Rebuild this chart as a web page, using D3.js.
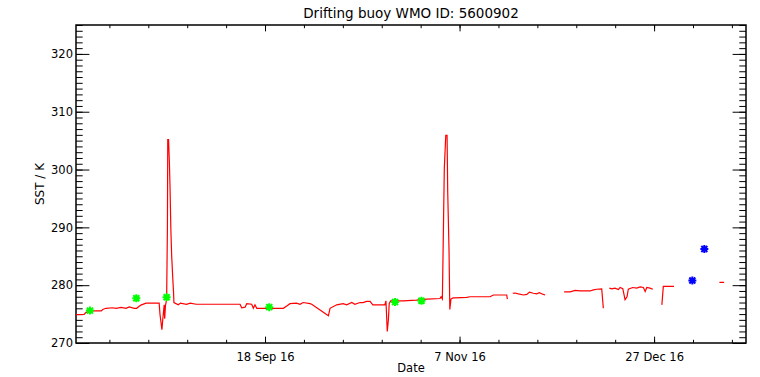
<!DOCTYPE html>
<html>
<head>
<meta charset="utf-8">
<script src="https://cdn.jsdelivr.net/npm/d3@7"></script>
<style>
  body { margin: 0; background: #fff; }
  svg { display: block; }
  text { font-family: "DejaVu Sans", sans-serif; fill: #000; }
</style>
</head>
<body>
<script>
var width = 760,
    height = 377,
    margin = {top: 25, right: 14, bottom: 34, left: 76};

var title = "Drifting buoy WMO ID: 5600902";

// SST trace, null marks a gap in the record
var sstDates = [
  "2016-07-31 10:00", "2016-08-02 12:00", "2016-08-03 00:00", "2016-08-04 07:00", "2016-08-06 22:00",
  "2016-08-07 07:00", "2016-08-08 02:00", "2016-08-09 19:00", "2016-08-10 17:00", "2016-08-12 00:00",
  "2016-08-13 07:00", "2016-08-14 02:00", "2016-08-15 10:00", "2016-08-16 00:00", "2016-08-17 02:00",
  "2016-08-18 10:00", "2016-08-21 19:00", "2016-08-22 00:00", "2016-08-22 12:00", "2016-08-22 17:00",
  "2016-08-23 02:00", "2016-08-23 05:00", "2016-08-23 10:00", "2016-08-23 17:00", "2016-08-23 22:00",
  "2016-08-24 00:00", "2016-08-24 05:00", "2016-08-24 10:00", "2016-08-24 14:00", "2016-08-24 19:00",
  "2016-08-25 00:00", "2016-08-25 07:00", "2016-08-25 12:00", "2016-08-25 14:00", "2016-08-26 17:00",
  "2016-08-27 07:00", "2016-08-28 19:00", "2016-08-29 19:00", "2016-08-31 07:00", "2016-09-08 00:00",
  "2016-09-11 14:00", "2016-09-12 00:00", "2016-09-12 21:00", "2016-09-13 07:00", "2016-09-14 14:00",
  "2016-09-15 00:00", "2016-09-15 10:00", "2016-09-15 21:00", "2016-09-22 17:00", "2016-09-23 14:00",
  "2016-09-24 10:00", "2016-09-26 02:00", "2016-09-27 00:00", "2016-09-27 19:00", "2016-09-29 14:00",
  "2016-09-30 00:00", "2016-10-04 07:00", "2016-10-04 17:00", "2016-10-06 10:00", "2016-10-08 02:00",
  "2016-10-09 00:00", "2016-10-10 07:00", "2016-10-11 02:00", "2016-10-12 10:00", "2016-10-13 05:00",
  "2016-10-14 02:00", "2016-10-15 00:00", "2016-10-15 17:00", "2016-10-18 19:00", "2016-10-19 02:00",
  "2016-10-19 10:00", "2016-10-19 17:00", "2016-10-19 22:00", "2016-10-20 07:00", "2016-10-23 12:00",
  "2016-10-26 22:00", "2016-10-29 14:00", "2016-11-02 00:00", "2016-11-02 06:00", "2016-11-02 14:00",
  "2016-11-02 20:00", "2016-11-03 02:00", "2016-11-03 11:00", "2016-11-03 19:00", "2016-11-03 23:00",
  "2016-11-04 07:00", "2016-11-04 12:00", "2016-11-04 19:00", "2016-11-05 08:00", "2016-11-05 20:00",
  "2016-11-08 20:00", "2016-11-09 17:00", "2016-11-14 20:00", "2016-11-15 17:00", "2016-11-19 03:00",
  "2016-11-19 07:00", null,
  "2016-11-20 16:00", "2016-11-21 06:00", "2016-11-22 03:00", "2016-11-23 10:00", "2016-11-24 07:00",
  "2016-11-24 23:00", "2016-11-25 23:00", "2016-11-26 20:00", "2016-11-27 12:00", "2016-11-28 13:00",
  "2016-11-29 00:00", null,
  "2016-12-03 21:00", "2016-12-05 10:00", "2016-12-06 17:00", "2016-12-08 00:00", "2016-12-10 13:00",
  "2016-12-11 10:00", "2016-12-12 06:00", "2016-12-13 13:00", "2016-12-13 23:00", null,
  "2016-12-15 12:00", "2016-12-16 03:00", "2016-12-16 23:00", "2016-12-17 20:00", "2016-12-18 06:00",
  "2016-12-18 23:00", "2016-12-19 13:00", "2016-12-20 01:00", "2016-12-20 09:00", "2016-12-21 12:00",
  "2016-12-22 13:00", "2016-12-23 10:00", "2016-12-24 06:00", "2016-12-24 17:00", "2016-12-25 03:00",
  "2016-12-25 23:00", "2016-12-26 16:00", null,
  "2016-12-29 00:00", "2016-12-29 09:00", "2017-01-01 03:00", null,
  "2017-01-12 19:00", "2017-01-14 00:00"
];
var sstValues = [
  274.9, 274.95, 275.3, 275.55, 275.55,
  275.8, 276.0, 276.1, 276.0, 276.15,
  276.0, 276.25, 276.0, 276.0, 276.55,
  276.9, 276.9, 275.0, 272.3, 274.0,
  276.6, 274.2, 276.5, 277.5, 290.0,
  305.2, 305.2, 301.3, 297.0, 289.8,
  285.2, 281.2, 278.6, 277.0, 276.6,
  276.9, 276.7, 276.9, 276.7, 276.7,
  276.7, 276.1, 276.2, 276.8, 276.7,
  276.0, 276.6, 276.0, 276.0, 276.4,
  276.8, 276.9, 276.7, 277.0, 276.8,
  276.7, 274.7, 276.0, 276.6, 276.8,
  276.6, 277.0, 276.7, 277.0, 277.0,
  277.2, 277.2, 276.6, 276.6, 277.3,
  272.0, 274.0, 276.8, 277.3, 277.3,
  277.4, 277.6, 277.7, 278.0, 277.6,
  288.7, 300.2, 305.9, 305.9, 296.1,
  286.1, 275.8, 277.6, 277.8, 277.8,
  277.9, 278.0, 278.0, 278.3, 278.3,
  277.6, null,
  278.6, 278.65, 278.5, 278.3, 278.4,
  278.8, 278.6, 278.5, 278.7, 278.4,
  278.3, null,
  278.85, 278.85, 279.1, 279.0, 279.0,
  279.2, 279.3, 279.35, 276.0, null,
  279.5, 279.35, 279.5, 279.25, 279.6,
  279.4, 277.5, 278.0, 279.3, 279.6,
  279.5, 279.7, 279.6, 278.9, 279.6,
  279.5, 279.3, null,
  276.6, 279.8, 279.8, null,
  280.5, 280.5
];

// reference measurements
var greenDates = ["2016-08-04 00:00", "2016-08-15 22:00", "2016-08-23 17:00",
                  "2016-09-19 02:00", "2016-10-21 10:00", "2016-10-28 05:00"];
var greenValues = [275.6, 277.75, 277.9, 276.2, 277.1, 277.3];
var blueDates = ["2017-01-05 20:00", "2017-01-08 22:00"];
var blueValues = [280.8, 286.25];

var xDomain = ["2016-07-31 10:00", "2017-01-19 15:00"];
var xMajorTicks = ["2016-09-18 00:00", "2016-11-07 00:00", "2016-12-27 00:00"];
var yDomain = [270, 325];
var yMajorTicks = [270, 280, 290, 300, 310, 320];

var parse = d3.timeParse("%Y-%m-%d %H:%M");

var x = d3.scaleTime()
    .domain(xDomain.map(parse))
    .range([margin.left, width - margin.right]);

var y = d3.scaleLinear()
    .domain(yDomain)
    .range([height - margin.bottom, margin.top]);

var svg = d3.select("body").append("svg")
    .attr("width", width)
    .attr("height", height);

// minor ticks every 10 days, counted from the first major
var xMinor = d3.range(-4, 13).map(function(k) {
    return d3.timeDay.offset(parse(xMajorTicks[0]), k * 10);
}).filter(function(d) { return d >= x.domain()[0] && d <= x.domain()[1]; });
var xMajor = xMajorTicks.map(parse);
var yMinor = d3.range(yDomain[0], yDomain[1] + 1, 1);

var x0 = margin.left, x1 = width - margin.right,
    y0 = height - margin.bottom, y1 = margin.top;
var plotW = x1 - x0, plotH = y0 - y1;
var xTickLen = 0.02 * plotH, yTickLen = 0.02 * plotW;

function clean(g) {
    g.select(".domain").remove();
    g.selectAll("line").attr("stroke", "#000");
    g.selectAll("text").attr("font-size", "11.5px").style("font-family", "DejaVu Sans");
}

// bottom
svg.append("g").attr("transform", "translate(0," + y0 + ")")
    .call(d3.axisBottom(x).tickValues(xMinor).tickSizeInner(-xTickLen / 2).tickSizeOuter(0).tickFormat(""))
    .call(clean);
svg.append("g").attr("transform", "translate(0," + y0 + ")")
    .call(d3.axisBottom(x).tickValues(xMajor).tickSizeInner(-xTickLen).tickSizeOuter(0)
        .tickPadding(10).tickFormat(d3.timeFormat("%-d %b %y")))
    .call(clean);
// top
svg.append("g").attr("transform", "translate(0," + y1 + ")")
    .call(d3.axisBottom(x).tickValues(xMinor).tickSizeInner(xTickLen / 2).tickSizeOuter(0).tickFormat(""))
    .call(clean);
svg.append("g").attr("transform", "translate(0," + y1 + ")")
    .call(d3.axisBottom(x).tickValues(xMajor).tickSizeInner(xTickLen).tickSizeOuter(0).tickFormat(""))
    .call(clean);
// left
svg.append("g").attr("transform", "translate(" + x0 + ",0)")
    .call(d3.axisLeft(y).tickValues(yMinor).tickSizeInner(-yTickLen / 2).tickSizeOuter(0).tickFormat(""))
    .call(clean);
svg.append("g").attr("transform", "translate(" + x0 + ",0)")
    .call(d3.axisLeft(y).tickValues(yMajorTicks).tickSizeInner(-yTickLen).tickSizeOuter(0).tickPadding(3).tickFormat(d3.format("d")))
    .call(clean);
// right
svg.append("g").attr("transform", "translate(" + x1 + ",0)")
    .call(d3.axisLeft(y).tickValues(yMinor).tickSizeInner(yTickLen / 2).tickSizeOuter(0).tickFormat(""))
    .call(clean);
svg.append("g").attr("transform", "translate(" + x1 + ",0)")
    .call(d3.axisLeft(y).tickValues(yMajorTicks).tickSizeInner(yTickLen).tickSizeOuter(0).tickFormat(""))
    .call(clean);

svg.append("rect")
    .attr("x", x0).attr("y", y1)
    .attr("width", plotW).attr("height", plotH)
    .attr("fill", "none").attr("stroke", "#000").attr("stroke-width", 1.5);

var sst = sstDates.map(function(d, i) {
    return {date: d ? parse(d) : null, value: sstValues[i]};
});

var line = d3.line()
    .defined(function(d) { return d.date !== null && d.value !== null; })
    .x(function(d) { return x(d.date); })
    .y(function(d) { return y(d.value); });

svg.append("path")
    .datum(sst)
    .attr("d", line)
    .attr("fill", "none")
    .attr("stroke", "#ff0000")
    .attr("stroke-width", 1.2);

// IDL style asterisk
var star = "M-4,0H4M0,-4V4M-3,-3L3,3M-3,3L3,-3";

function markers(dates, values, colour) {
    svg.append("g").selectAll("path")
        .data(dates.map(function(d, i) { return {date: parse(d), value: values[i]}; }))
        .enter().append("path")
        .attr("transform", function(d) {
            return "translate(" + x(d.date) + "," + y(d.value) + ")";
        })
        .attr("d", star)
        .attr("stroke", colour)
        .attr("stroke-width", 2);
}
markers(greenDates, greenValues, "#00ff00");
markers(blueDates, blueValues, "#0000ff");

svg.append("text")
    .attr("x", (x0 + x1) / 2).attr("y", 18)
    .attr("text-anchor", "middle")
    .attr("font-size", "13.5px")
    .text(title);

svg.append("text")
    .attr("x", (x0 + x1) / 2).attr("y", 372)
    .attr("text-anchor", "middle")
    .attr("font-size", "11.5px")
    .text("Date");

svg.append("text")
    .attr("transform", "translate(44," + (y0 + y1) / 2 + ") rotate(-90)")
    .attr("text-anchor", "middle")
    .attr("font-size", "12px")
    .text("SST / K");
</script>
</body>
</html>
